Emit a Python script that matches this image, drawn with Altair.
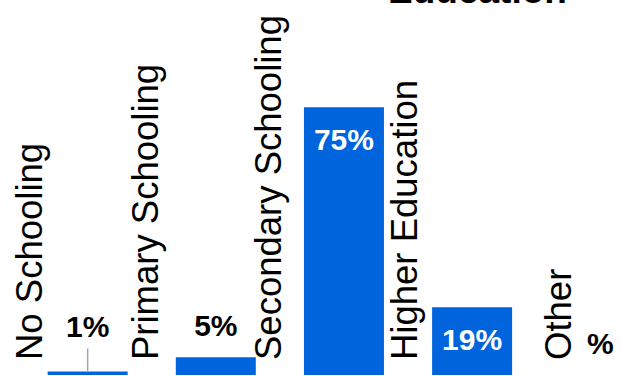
import altair as alt
import pandas as pd

categories = ["No Schooling", "Primary Schooling", "Secondary Schooling", "Higher Education", "Other"]
values = [1, 5, 75, 19, 0]
value_labels = ["1%", "5%", "75%", "19%", "%"]

df = pd.DataFrame({
    "category": categories,
    "value": values,
    "label": value_labels,
    "idx": list(range(len(categories))),
})

FONT = "Liberation Sans"
BLUE = "#0064DC"
STEP = 130.25

x_scale = alt.Scale(domain=[-84 / STEP, (621 - 84) / STEP], nice=False, zero=False)
y_scale = alt.Scale(domain=[0, 105], nice=False)

base = alt.Chart(df).transform_calculate(zero="0")

xq = alt.X("idx:Q", scale=x_scale, axis=None)
yq = alt.Y("value:Q", scale=y_scale, axis=None)

bars = base.mark_bar(size=80, color=BLUE).encode(x=xq, y=yq)

cat_labels = base.transform_calculate(
    lx=f"datum.idx - (28.5 + 2.43 * length(datum.category)) / {STEP}"
).mark_text(
    angle=270, align="left", baseline="middle", dx=15,
    font=FONT, fontSize=36.5, color="black"
).encode(
    x=alt.X("lx:Q", scale=x_scale, axis=None),
    y=alt.Y("zero:Q", scale=y_scale, axis=None),
    text="category:N",
)

inside = base.transform_filter("datum.value >= 10").mark_text(
    baseline="alphabetic", dy=43, font=FONT, fontSize=30, fontWeight="bold", color="white"
).encode(x=xq, y=yq, text="label:N")

outside = base.transform_filter("datum.value < 10 && !(datum.value > 0 && datum.value < 2)").mark_text(
    baseline="alphabetic", dy=-21, font=FONT, fontSize=30, fontWeight="bold", color="black"
).encode(x=xq, y=yq, text="label:N")

lifted = base.transform_filter("datum.value > 0 && datum.value < 2").mark_text(
    baseline="alphabetic", dy=-34, font=FONT, fontSize=30, fontWeight="bold", color="black"
).encode(x=xq, y=yq, text="label:N")

leader = base.transform_filter("datum.value > 0 && datum.value < 2").mark_rule(
    color="#A6A6A6", strokeWidth=1.5, y2Offset=-23
).encode(x=xq, y=yq, y2=alt.Y2("value:Q"))

chart = alt.layer(bars, leader, cat_labels, inside, outside, lifted).properties(
    width=621,
    height=375,
    padding={"left": 0, "top": 0, "right": 0, "bottom": 1},
    autosize=alt.AutoSizeParams(type="none"),
    title=alt.Title(
        "Education", font=FONT, fontSize=37, fontWeight="bold", color="black",
        anchor="middle", dx=167, dy=40, offset=0, baseline="alphabetic",
    ),
).configure_view(stroke=None)

chart.save("out.html", embed_options={"renderer": "svg", "actions": False})
